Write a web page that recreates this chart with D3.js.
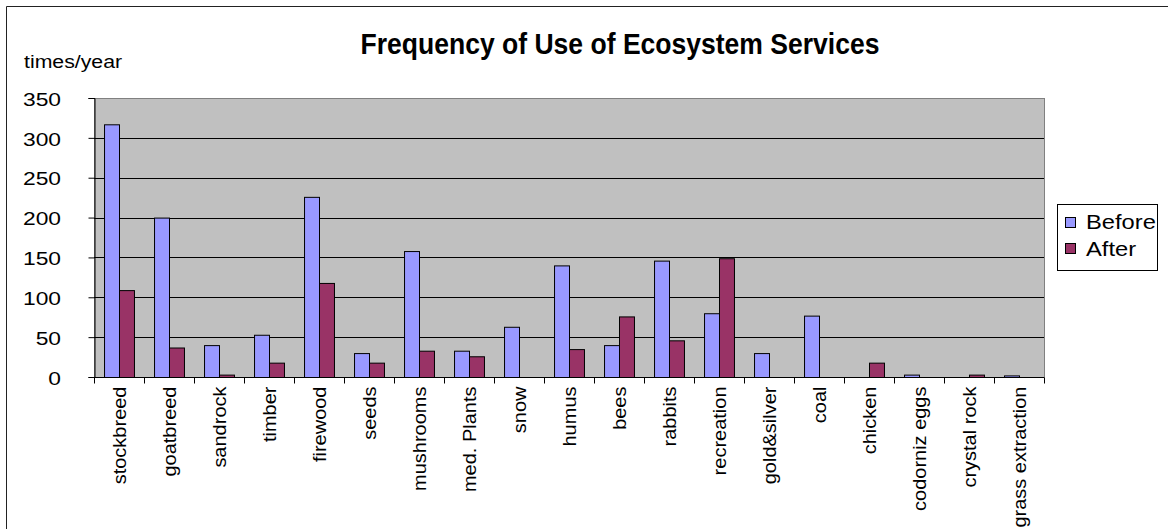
<!DOCTYPE html>
<html>
<head>
<meta charset="utf-8">
<script src="https://cdn.jsdelivr.net/npm/d3@7"></script>
<style>
  html, body { margin: 0; padding: 0; background: #fff; }
  svg { display: block; }
  text { font-family: "Liberation Sans", Arial, sans-serif; fill: #000; }
</style>
</head>
<body>
<svg id="chart" width="1168" height="529"></svg>
<script>
// Ecosystem services and how often each is used (times per year)
const categories = ["stockbreed", "goatbreed", "sandrock", "timber", "firewood", "seeds",
  "mushrooms", "med. Plants", "snow", "humus", "bees", "rabbits", "recreation",
  "gold&silver", "coal", "chicken", "codorniz eggs", "crystal rock", "grass extraction"];
const before = [317, 200, 40, 53, 226, 30, 158, 33, 63, 140, 40, 146, 80, 30, 77, 0, 3, 0, 2];
const after  = [109, 37, 3, 18, 118, 18, 33, 26, 0, 35, 76, 46, 149, 0, 0, 18, 0, 3, 0];
const seriesNames = ["Before", "After"];
const seriesColors = ["#9999FF", "#993366"];
const yTicks = [0, 50, 100, 150, 200, 250, 300, 350];

const svg = d3.select("#chart");
const FONT = "'Liberation Sans', Arial, sans-serif";

// outer chart frame
svg.append("path")
  .attr("d", "M6.5,529 V6.5 H1168")
  .attr("fill", "none").attr("stroke", "#222").attr("stroke-width", 1);

const plot = { left: 94, right: 1044, top: 98, bottom: 377 };

const x = d3.scaleBand().domain(categories).range([plot.left, plot.right]).paddingInner(0).paddingOuter(0);
const xs = d3.scaleBand().domain(seriesNames).range([0, x.bandwidth()]).paddingInner(0).paddingOuter(0.67);
const y = d3.scaleLinear().domain([0, 350]).range([plot.bottom, plot.top]);

// plot area background
svg.append("rect")
  .attr("x", plot.left + 0.5).attr("y", plot.top + 0.5)
  .attr("width", plot.right - plot.left).attr("height", plot.bottom - plot.top)
  .attr("fill", "#C0C0C0").attr("stroke", "#808080").attr("stroke-width", 1);

// horizontal gridlines
svg.append("g").selectAll("line")
  .data(yTicks.filter(t => t > 0 && t < 350))
  .join("line")
  .attr("x1", plot.left).attr("x2", plot.right)
  .attr("y1", d => Math.round(y(d)) + 0.5).attr("y2", d => Math.round(y(d)) + 0.5)
  .attr("stroke", "#000").attr("stroke-width", 1);

// bars
const rows = categories.map((c, i) => ({ cat: c, values: [before[i], after[i]] }));
const groups = svg.append("g").selectAll("g")
  .data(rows).join("g")
  .attr("transform", d => `translate(${x(d.cat)},0)`);
groups.selectAll("rect")
  .data(d => d.values.map((v, k) => ({ v, k })).filter(e => e.v > 0))
  .join("rect")
  .attr("x", e => xs(seriesNames[e.k]) + 0.5)
  .attr("y", e => y(e.v) + 0.5)
  .attr("width", xs.bandwidth())
  .attr("height", e => Math.max(0, plot.bottom - y(e.v)))
  .attr("fill", e => seriesColors[e.k])
  .attr("stroke", "#000").attr("stroke-width", 1);

// y axis: line and ticks from d3.axisLeft, labels set a little away from the axis
const yAxis = d3.axisLeft(y).tickValues(yTicks).tickSize(6).tickFormat("");
const gy = svg.append("g").attr("transform", `translate(${plot.left + 0.5},0)`).call(yAxis);
gy.select(".domain").attr("stroke", "#000");
gy.selectAll(".tick line").attr("stroke", "#000");
gy.selectAll(".tick text").remove();
svg.append("g").selectAll("text")
  .data(yTicks)
  .join("text")
  .attr("transform", d => `translate(61,${y(d) + 1}) scale(1.2,1)`)
  .attr("text-anchor", "end")
  .attr("dy", "0.35em")
  .style("font-size", "19px")
  .text(d3.format("d"));

// x axis with ticks at category boundaries
const gx = svg.append("g").attr("transform", `translate(0,${plot.bottom + 0.5})`);
gx.append("line").attr("x1", plot.left).attr("x2", plot.right).attr("stroke", "#000");
gx.selectAll("line.tk")
  .data(categories.map(c => x(c)).concat([plot.right]))
  .join("line").attr("class", "tk")
  .attr("x1", d => Math.round(d) + 0.5).attr("x2", d => Math.round(d) + 0.5)
  .attr("y1", 0).attr("y2", 6).attr("stroke", "#000");
gx.selectAll("text")
  .data(categories)
  .join("text")
  .attr("transform", d => `translate(${x(d) + x.bandwidth() / 2 + 1},9) rotate(-90) scale(1,0.9)`)
  .attr("text-anchor", "end")
  .attr("dy", "0.33em")
  .style("font-size", "20px")
  .text(d => d);

// title
svg.append("text")
  .attr("transform", "translate(620,54) scale(0.915,1)")
  .attr("text-anchor", "middle")
  .style("font-family", FONT)
  .style("font-weight", "bold").style("font-size", "29px")
  .text("Frequency of Use of Ecosystem Services");

// y axis unit label
svg.append("text")
  .attr("transform", "translate(24,68) scale(1.15,1)")
  .style("font-size", "18.5px")
  .text("times/year");

// legend
const lg = svg.append("g").attr("transform", "translate(1057,204)");
lg.append("rect").attr("x", 0.5).attr("y", 0.5).attr("width", 100).attr("height", 66)
  .attr("fill", "#fff").attr("stroke", "#000");
seriesNames.forEach((n, k) => {
  lg.append("rect").attr("x", 8.5).attr("y", 13.5 + k * 26).attr("width", 10).attr("height", 10)
    .attr("fill", seriesColors[k]).attr("stroke", "#000");
  lg.append("text").attr("transform", `translate(29,${25 + k * 26.5}) scale(1.13,1)`)
    .style("font-size", "21px").text(n);
});
</script>
</body>
</html>
